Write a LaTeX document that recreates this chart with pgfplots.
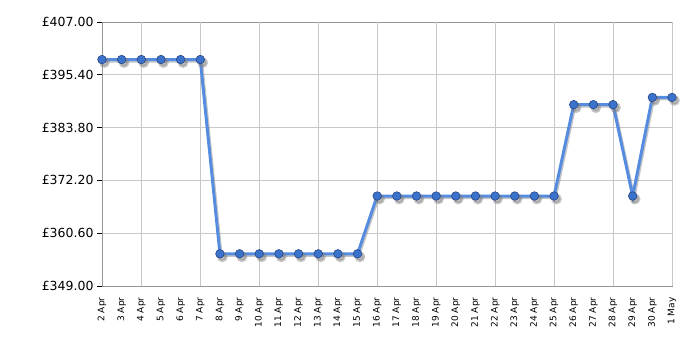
\documentclass[border=0pt]{standalone}
\usepackage{pgfplots}
\pgfplotsset{compat=1.18}
\usepackage{fontspec}
\setmainfont{DejaVu Sans}
\definecolor{lineblue}{RGB}{86,140,224}
\definecolor{markblue}{RGB}{58,114,204}
\definecolor{markedge}{RGB}{40,70,130}
\definecolor{gridgray}{RGB}{200,200,200}
\definecolor{axisgray}{RGB}{150,150,150}
\pgfplotstableread{
x y
0 398.75
1 398.75
2 398.75
3 398.75
4 398.75
5 398.75
6 356.07
7 356.07
8 356.07
9 356.07
10 356.07
11 356.07
12 356.07
13 356.07
14 368.77
15 368.77
16 368.77
17 368.77
18 368.77
19 368.77
20 368.77
21 368.77
22 368.77
23 368.77
24 388.84
25 388.84
26 388.84
27 368.77
28 390.43
29 390.43
}\prices
\begin{document}
\begin{tikzpicture}
\path[use as bounding box] (-102pt,-64pt) rectangle (598pt,286pt);
\begin{axis}[
  at={(0,0)}, anchor=south west,
  scale only axis, width=570pt, height=264pt,
  xmin=0, xmax=29, ymin=349, ymax=407,
  ytick={349,360.6,372.2,383.8,395.4,407},
  yticklabel={\pounds\pgfmathprintnumber[fixed,fixed zerofill,precision=2]{\tick}},
  /pgf/number format/assume math mode=true,
  yticklabel style={font=\fontsize{12.5}{14}\selectfont, text=black},
  ymajorgrids, major grid style={gridgray, line width=0.6pt},
  xtick={0,...,29},
  xticklabels={2 Apr,3 Apr,4 Apr,5 Apr,6 Apr,7 Apr,8 Apr,9 Apr,10 Apr,11 Apr,12 Apr,13 Apr,14 Apr,15 Apr,16 Apr,17 Apr,18 Apr,19 Apr,20 Apr,21 Apr,22 Apr,23 Apr,24 Apr,25 Apr,26 Apr,27 Apr,28 Apr,29 Apr,30 Apr,1 May},
  xticklabel style={font=\fontsize{9}{10}\selectfont, rotate=90, anchor=east, text=black, xshift=-3pt},
  xtick style={draw=none},
  extra x ticks={2,5,8,11,14,17,20,23,26,29},
  extra x tick labels={},
  extra x tick style={xmajorgrids, tick style={draw=black, line width=0.8pt}, major tick length=5pt, tick align=outside},
  ytick style={draw=black, line width=0.8pt},
  major tick length=5pt, tick align=outside,
  tick pos=left,
  axis line style={axisgray, line width=0.8pt},
  clip=false,
]
\addplot[black!50, opacity=0.45, line width=3pt, transform canvas={xshift=1.2pt,yshift=-1.5pt}, mark=*, mark size=3.8pt, mark options={draw=none, fill=black!50}] table {\prices};
\addplot[lineblue, line width=3pt, mark=*, mark size=4.3pt, mark options={fill=markblue, draw=markedge, line width=0.6pt}] table {\prices};
\end{axis}
\end{tikzpicture}
\end{document}
